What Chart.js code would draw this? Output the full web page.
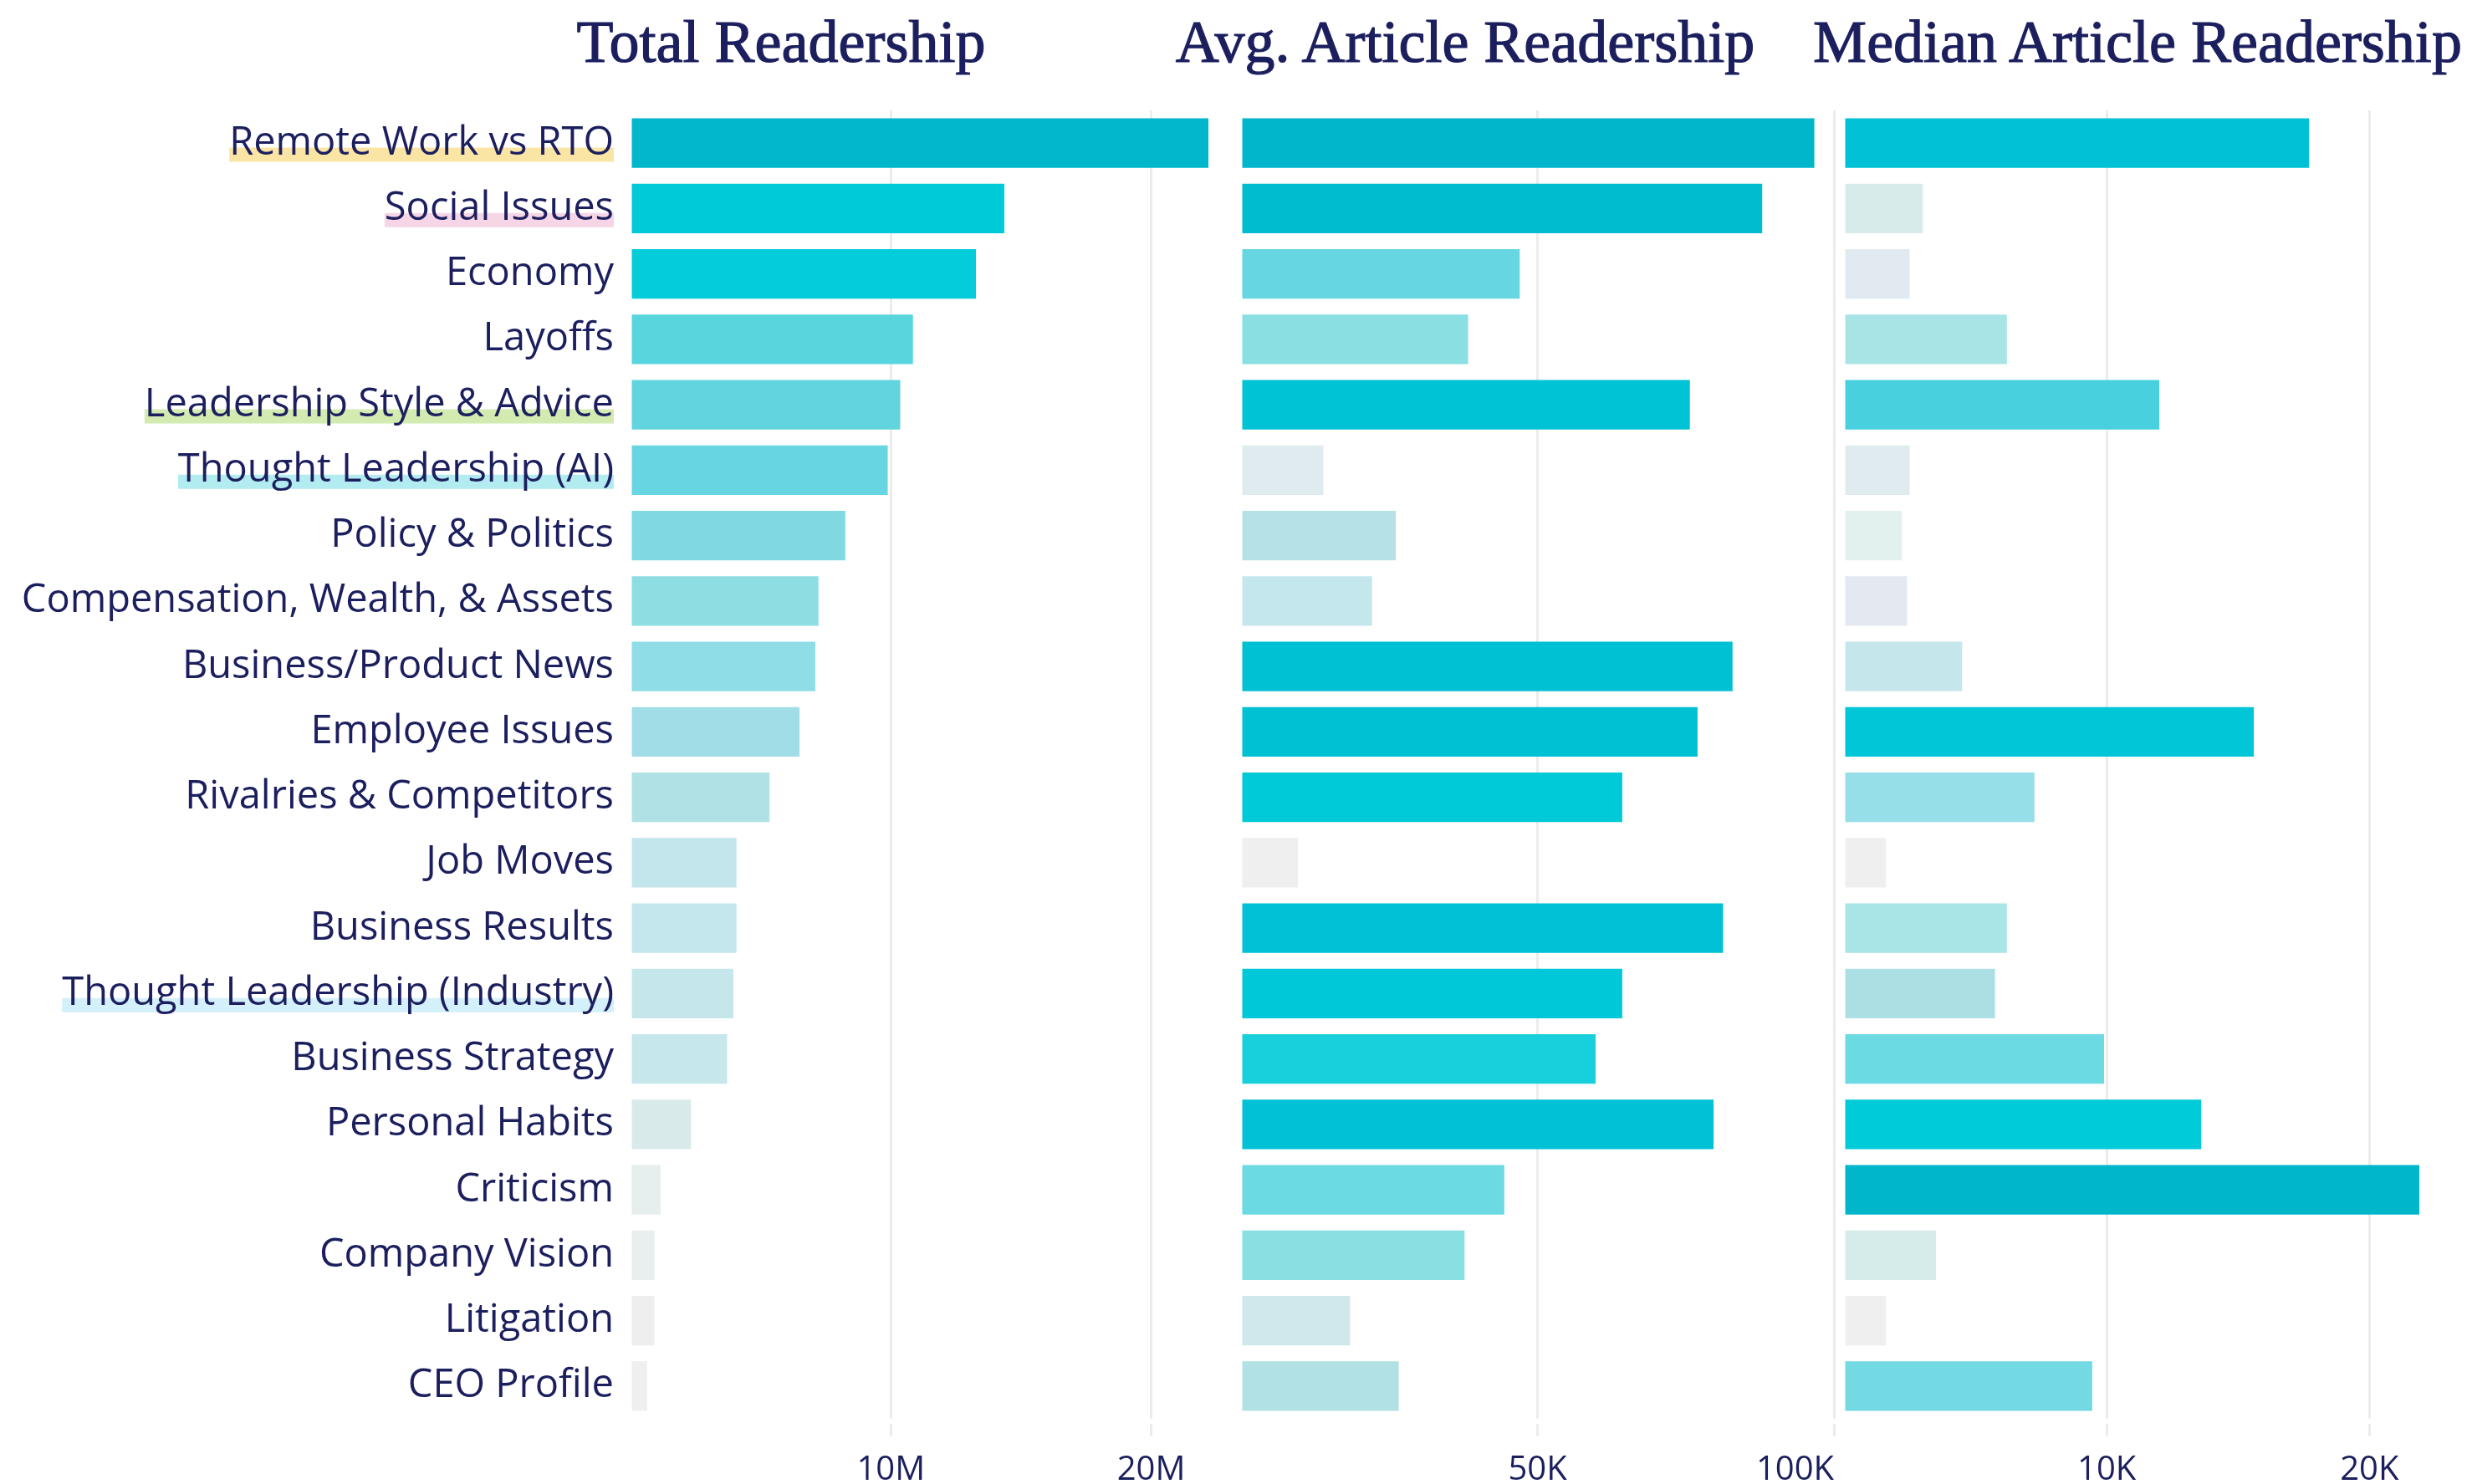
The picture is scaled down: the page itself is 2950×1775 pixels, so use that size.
<!DOCTYPE html>
<html>
<head>
<meta charset="utf-8">
<script src="https://cdn.jsdelivr.net/npm/chart.js@4.4.1/dist/chart.umd.min.js"></script>
<style>
  html, body { margin: 0; padding: 0; background: #fff; }
  #wrap { position: relative; width: 2950px; height: 1775px; overflow: hidden; }
  canvas { position: absolute; top: 0; }
  .title {
    position: absolute; top: 14px; transform: translateX(-50%);
    font-family: "Liberation Serif", serif; font-size: 72px; line-height: 1;
    color: #1c1f5e; white-space: nowrap; -webkit-text-stroke: 1.2px #1c1f5e;
  }
</style>
</head>
<body>
<div id="wrap">
  <div class="title" style="left:934px">Total Readership</div>
  <div class="title" style="left:1752px">Avg. Article Readership</div>
  <div class="title" style="left:2556px">Median Article Readership</div>
  <canvas id="total" width="1470" height="1775" style="left:0"></canvas>
  <canvas id="avg" width="760" height="1775" style="left:1460px"></canvas>
  <canvas id="median" width="770" height="1775" style="left:2180px"></canvas>
</div>
<script>
const categories = [
  "Remote Work vs RTO", "Social Issues", "Economy", "Layoffs",
  "Leadership Style & Advice", "Thought Leadership (AI)", "Policy & Politics",
  "Compensation, Wealth, & Assets", "Business/Product News", "Employee Issues",
  "Rivalries & Competitors", "Job Moves", "Business Results",
  "Thought Leadership (Industry)", "Business Strategy", "Personal Habits",
  "Criticism", "Company Vision", "Litigation", "CEO Profile"
];

// total readership (readers)
const totalReadership = [
  22.2e6, 14.36e6, 13.27e6, 10.85e6, 10.36e6, 9.88e6, 8.25e6, 7.22e6, 7.1e6, 6.49e6,
  5.34e6, 4.07e6, 4.07e6, 3.95e6, 3.71e6, 2.32e6, 1.16e6, 0.92e6, 0.92e6, 0.64e6
];
// average readership per article
const avgReadership = [
  96700, 87900, 47000, 38300, 75700, 13900, 26100, 22100, 82900, 77000,
  64300, 9600, 81300, 64300, 59800, 79700, 44400, 37700, 18400, 26600
];
// median readership per article
const medianReadership = [
  17700, 3000, 2500, 6200, 12000, 2500, 2200, 2400, 4500, 15600,
  7250, 1600, 6200, 5750, 9900, 13600, 21900, 3500, 1600, 9450
];

const totalTicks = [10e6, 20e6];
const totalTickLabels = ["10M", "20M"];
const avgTicks = [50000, 100000];
const avgTickLabels = ["50K", "100K"];
const medianTicks = [10000, 20000];
const medianTickLabels = ["10K", "20K"];

// bar colours
const totalColors = [
  "#02b6cb", "#00cad8", "#04ccd9", "#59d5de", "#62d4df", "#68d5e3", "#80d9e2",
  "#8ddee2", "#8fdde7", "#a1dde7", "#b0e1e5", "#c3e6ec", "#c3e7ec", "#c5e7ec",
  "#c6e7ec", "#d8ebea", "#e7eeee", "#e9eeee", "#eeeeee", "#efefef"
];
const avgColors = [
  "#01b6cb", "#00bccf", "#67d6e3", "#89dfe2", "#00c4d5", "#e0ebf0", "#b6e1e6",
  "#c3e7ec", "#00c0d3", "#00c1d4", "#00c9d8", "#efefef", "#00c1d6", "#00c8d8",
  "#18cfdc", "#00c1d5", "#6cdae3", "#89dfe2", "#d0e7ec", "#b1e1e5"
];
const medianColors = [
  "#00c1d5", "#d7ebea", "#e0eaf0", "#a8e4e6", "#48d0de", "#e0ebf0", "#e2f0ee",
  "#e3e8f1", "#c5e7ec", "#00c6d8", "#97dfe8", "#efefef", "#a9e4e6", "#abdfe4",
  "#6cdae3", "#00cbd9", "#00b6ca", "#d5ecea", "#efefef", "#73d9e3"
];

const highlights = {
  "Remote Work vs RTO": "#fae5a5",
  "Social Issues": "#f6d6e6",
  "Leadership Style & Advice": "#d3ebb0",
  "Thought Leadership (AI)": "#b3ecf0",
  "Thought Leadership (Industry)": "#d4f0fb"
};

const navy = "#1c1f5e";
const gridColor = "#ececec";
const labelFont = { family: "Open Sans", size: 47 };
const labelPad = 20;

// marker-pen highlight behind some category labels
const labelHighlight = {
  id: "labelHighlight",
  beforeDraw(chart) {
    const y = chart.scales.y;
    if (!y.options.display) return;
    const ctx = chart.ctx;
    ctx.save();
    ctx.font = `${labelFont.size}px "${labelFont.family}"`;
    ctx.textBaseline = "middle";
    const right = chart.chartArea.left - labelPad;
    const drop = ctx.measureText("H").actualBoundingBoxDescent;
    categories.forEach((name, i) => {
      const col = highlights[name];
      if (!col) return;
      const w = ctx.measureText(name).width;
      const base = y.getPixelForValue(i) + drop;
      ctx.fillStyle = col;
      ctx.fillRect(right - w, base - 8, w, 17);
    });
    ctx.restore();
  }
};

function makePanel(id, values, colors, ticks, tickLabels, opt) {
  const hideZero = c => (c.tick && c.tick.value === 0 ? "rgba(0,0,0,0)" : gridColor);
  const yScale = {
    type: "category",
    display: opt.showLabels,
    grid: { display: false, drawTicks: false },
    border: { display: false },
    ticks: { color: navy, font: labelFont, padding: labelPad, autoSkip: false }
  };
  if (opt.showLabels) yScale.afterFit = s => { s.width = 754; };

  return new Chart(document.getElementById(id), {
    type: "bar",
    data: {
      labels: categories,
      datasets: [{
        data: values,
        backgroundColor: colors,
        borderWidth: 0,
        barPercentage: 0.754,
        categoryPercentage: 1
      }]
    },
    options: {
      indexAxis: "y",
      responsive: false,
      animation: false,
      devicePixelRatio: 1,
      layout: { padding: { top: 132, bottom: 0, left: opt.padLeft, right: opt.padRight } },
      plugins: { legend: { display: false }, tooltip: { enabled: false } },
      scales: {
        x: {
          type: "linear",
          position: "bottom",
          min: 0,
          max: Math.max(...values, ticks[ticks.length - 1] * opt.maxTick),
          afterBuildTicks: s => { s.ticks = [0, ...ticks].map(v => ({ value: v })); },
          afterFit: s => { s.height = 78; },
          border: { display: false },
          grid: {
            color: hideZero,
            tickColor: hideZero,
            lineWidth: 3,
            tickWidth: 3,
            tickLength: 21,
            tickBorderDash: [0, 6, 15, 200]
          },
          ticks: {
            color: navy,
            font: { family: "Open Sans", size: 40 },
            padding: 17,
            align: opt.align,
            maxRotation: 0,
            autoSkip: false,
            callback: v => {
              const i = ticks.indexOf(v);
              return i >= 0 ? tickLabels[i] : "";
            }
          }
        },
        y: yScale
      }
    },
    plugins: [labelHighlight]
  });
}

makePanel("total", totalReadership, totalColors, totalTicks, totalTickLabels,
  { padLeft: 0, padRight: 25, showLabels: true, align: "center", maxTick: 0 });
makePanel("avg", avgReadership, avgColors, avgTicks, avgTickLabels,
  { padLeft: 24, padRight: 27, showLabels: false, align: "inner", maxTick: 1 });
makePanel("median", medianReadership, medianColors, medianTicks, medianTickLabels,
  { padLeft: 25, padRight: 57, showLabels: false, align: "center", maxTick: 0 });
</script>
</body>
</html>
